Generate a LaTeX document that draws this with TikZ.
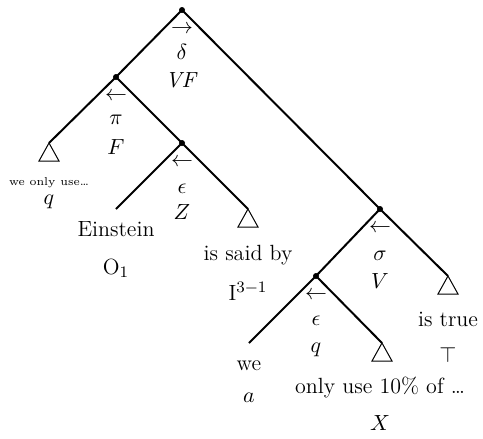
\documentclass[tikz,border=0pt]{standalone}
\begin{document}
\begin{tikzpicture}[x=0.5pt,y=-0.5pt,
  dot/.style={circle,fill,inner sep=0pt,minimum size=3pt},
  edge/.style={line width=1pt},
  tri/.style={line width=0.5pt,line join=miter},
  lab/.style={anchor=base,inner sep=0pt,font=\fontsize{11}{13}\selectfont},
  arr/.style={anchor=center,inner sep=0pt,font=\fontsize{11}{13}\selectfont},
  small/.style={anchor=base,inner sep=0pt,font=\fontsize{5.7}{7}\selectfont}]
\useasboundingbox (0,0) rectangle (483,439);
% internal nodes
\node[dot] (r) at (182,10) {};
\node[dot] (f) at (116,77) {};
\node[dot] (z) at (182,143) {};
\node[dot] (s) at (380,209) {};
\node[dot] (e) at (316,276) {};
% leaves
\coordinate (t1) at (49,143);
\coordinate (ein) at (116,209);
\coordinate (t2) at (248,209);
\coordinate (t3) at (448,276);
\coordinate (we) at (249,343);
\coordinate (t4) at (382,343);
% edges
\draw[edge] (r.center) -- (f.center);
\draw[edge] (r.center) -- (s.center);
\draw[edge] (f.center) -- (t1);
\draw[edge] (f.center) -- (z.center);
\draw[edge] (z.center) -- (ein);
\draw[edge] (z.center) -- (t2);
\draw[edge] (s.center) -- (e.center);
\draw[edge] (s.center) -- (t3);
\draw[edge] (e.center) -- (we);
\draw[edge] (e.center) -- (t4);
% triangles
\foreach \t in {t1,t2,t3,t4}
  \draw[tri] (\t) -- ++(-10,18) -- ++(20,0) -- cycle;
% internal labels
\node[arr] (ra) at (182,29) {$\rightarrow$};
\node[lab] (rs) at (182,60) {$\delta$};
\node[lab] (rl) at (182,87) {$\mathit{VF}$};
\node[arr] (fa) at (116,96) {$\leftarrow$};
\node[lab] (fs) at (116,125) {$\pi$};
\node[lab] (fl) at (116,155) {$F$};
\node[arr] (za) at (182,162) {$\leftarrow$};
\node[lab] (zs) at (182,193) {$\epsilon$};
\node[lab] (zl) at (182,220) {$Z$};
\node[arr] (sa) at (380,228) {$\leftarrow$};
\node[lab] (ss) at (380,260) {$\sigma$};
\node[lab] (sl) at (380,288) {$V$};
\node[arr] (ea) at (316,295) {$\leftarrow$};
\node[lab] (es) at (316,325) {$\epsilon$};
\node[lab] (el) at (316,352) {$q$};
% leaf labels
\node[small] (t1w) at (49,185) {we only use\ldots};
\node[lab] (t1l) at (49,204) {$q$};
\node[lab] (einw) at (116,236) {Einstein};
\node[lab] (einl) at (116,274) {O$_1$};
\node[lab] (t2w) at (248,260) {is said by};
\node[lab] (t2l) at (248,300) {I$^{3-1}$};
\node[lab] (t3w) at (448,326) {is true};
\node[lab] (t3l) at (448,362) {$\top$};
\node[lab] (wew) at (249,370) {we};
\node[lab] (wel) at (249,402) {$a$};
\node[lab] (t4w) at (380,393) {only use 10\% of \ldots};
\node[lab] (t4l) at (380,430) {$X$};
\end{tikzpicture}
\end{document}
